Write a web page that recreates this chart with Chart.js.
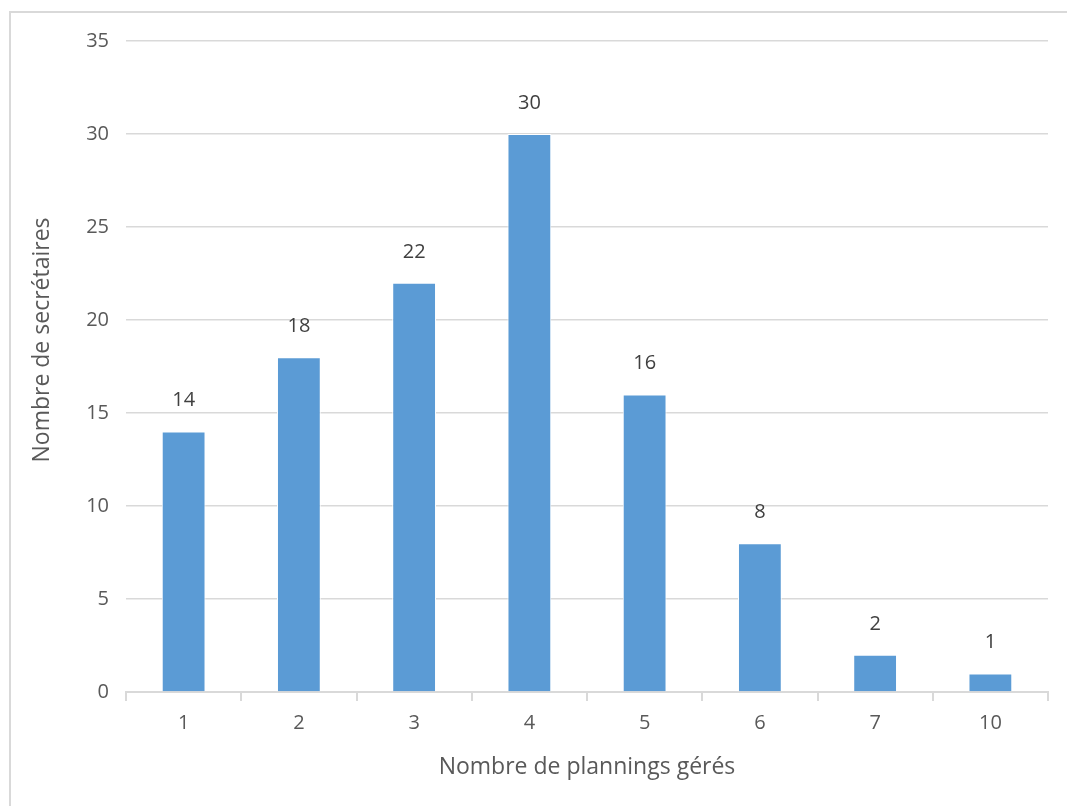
<!DOCTYPE html>
<html>
<head>
<meta charset="utf-8">
<script src="https://cdn.jsdelivr.net/npm/chart.js@4.4.1/dist/chart.umd.min.js"></script>
<style>
    body { margin: 0; background: #fff; overflow: hidden; }
    #frame { position: absolute; left: 9px; top: 11px; width: 1100px; height: 850px; border-top: 2px solid #d9d9d9; border-left: 2px solid #d9d9d9; }
    #wrap { position: absolute; left: 0; top: 0; width: 1067px; height: 806px; }
</style>
</head>
<body>
<div id="frame"></div>
<div id="wrap"><canvas id="planningChart"></canvas></div>
<script>
var categories = ['1', '2', '3', '4', '5', '6', '7', '10'];
var secretaires = [14, 18, 22, 30, 16, 8, 2, 1];
var yTicks = [0, 5, 10, 15, 20, 25, 30, 35];
var yTitle = 'Nombre de secrétaires';

var fontName = "'Open Sans', sans-serif";

// labels above each bar + y title (sits a bit above the plot centre, like the original)
var barLabels = {
    id: 'barLabels',
    afterDatasetsDraw: function (chart) {
        var ctx = chart.ctx;
        var meta = chart.getDatasetMeta(0);
        ctx.save();
        ctx.font = '20px ' + fontName;
        ctx.fillStyle = '#404040';
        ctx.textAlign = 'center';
        ctx.textBaseline = 'middle';
        meta.data.forEach(function (bar, i) {
            ctx.fillText(secretaires[i], bar.x, bar.y - 31);
        });
        ctx.restore();

        ctx.save();
        ctx.translate(42, 340);
        ctx.rotate(-Math.PI / 2);
        ctx.font = '23px ' + fontName;
        ctx.fillStyle = '#595959';
        ctx.textAlign = 'center';
        ctx.textBaseline = 'middle';
        ctx.fillText(yTitle, 0, 0);
        ctx.restore();
    }
};

var ctx = document.getElementById("planningChart").getContext('2d');
var myChart = new Chart(ctx, {
    type: 'bar',
    data: {
        labels: categories,
        datasets: [{
            data: secretaires,
            backgroundColor: '#5b9bd5',
            borderColor: '#ffffff',
            borderWidth: 1,
            barPercentage: 0.38,
            categoryPercentage: 1
        }]
    },
    options: {
        responsive: true,
        maintainAspectRatio: false,
        animation: false,
        layout: { padding: { left: 0, right: 19, top: 41, bottom: 0 } },
        plugins: {
            legend: { display: false },
            tooltip: { enabled: false }
        },
        scales: {
            x: {
                afterFit: function (scale) { scale.height = 114; },
                grid: { drawOnChartArea: false, drawTicks: true, tickLength: 9, color: '#d9d9d9', lineWidth: 2 },
                border: { display: true, color: '#d9d9d9', width: 2 },
                ticks: { color: '#595959', font: { family: fontName, size: 20 }, padding: 10 },
                title: {
                    display: true,
                    text: 'Nombre de plannings gérés',
                    color: '#595959',
                    font: { family: fontName, size: 23 },
                    padding: { top: 0, bottom: 25 }
                }
            },
            y: {
                min: 0,
                max: 35,
                afterFit: function (scale) { scale.width = 126; },
                afterBuildTicks: function (scale) {
                    scale.ticks = yTicks.map(function (v) { return { value: v }; });
                },
                grid: { drawTicks: false, color: '#d9d9d9', lineWidth: 1.5 },
                border: { display: false },
                ticks: { color: '#595959', font: { family: fontName, size: 20 }, padding: 17 }
            }
        }
    },
    plugins: [barLabels]
});
</script>
</body>
</html>
